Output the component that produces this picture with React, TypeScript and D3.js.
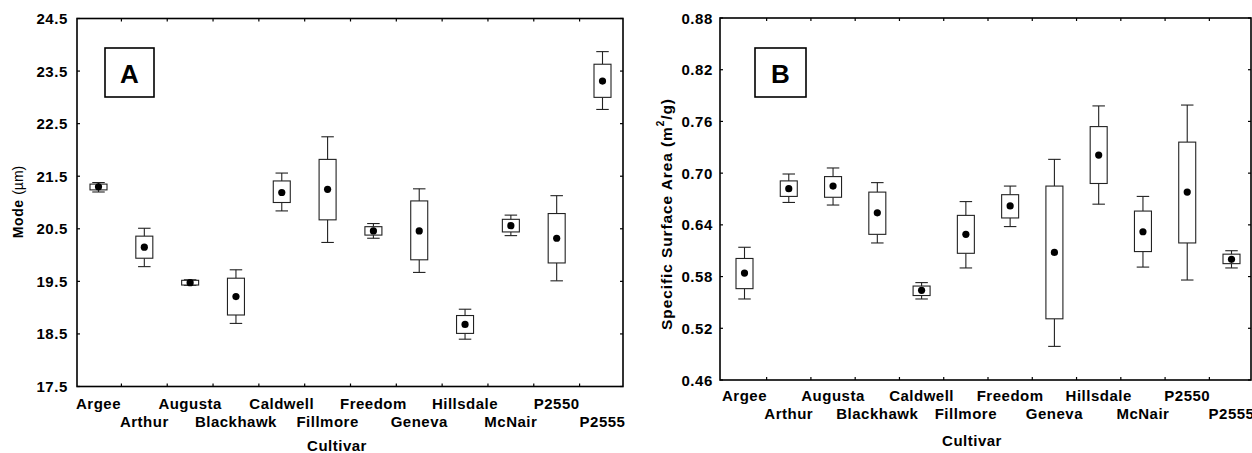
import React from "react";
import * as d3 from "d3";

const categories = ["Argee", "Arthur", "Augusta", "Blackhawk", "Caldwell", "Fillmore", "Freedom", "Geneva", "Hillsdale", "McNair", "P2550", "P2555"];

// Panel A: Mode (µm)
const modeMin = [21.2, 19.78, 19.425, 18.7, 20.84, 20.24, 20.32, 19.67, 18.4, 20.37, 19.51, 22.77];
const modeQ1 = [21.24, 19.94, 19.43, 18.86, 21.0, 20.67, 20.38, 19.91, 18.51, 20.44, 19.85, 23.0];
const modeMean = [21.3, 20.15, 19.475, 19.21, 21.19, 21.25, 20.46, 20.46, 18.68, 20.56, 20.32, 23.31];
const modeQ3 = [21.35, 20.36, 19.52, 19.56, 21.41, 21.82, 20.54, 21.03, 18.85, 20.68, 20.79, 23.63];
const modeMax = [21.38, 20.51, 19.53, 19.72, 21.56, 22.25, 20.6, 21.26, 18.97, 20.76, 21.13, 23.87];
const modeTicks = [17.5, 18.5, 19.5, 20.5, 21.5, 22.5, 23.5, 24.5];

// Panel B: Specific Surface Area (m2/g)
const ssaMin = [0.554, 0.666, 0.663, 0.619, 0.554, 0.59, 0.638, 0.499, 0.664, 0.591, 0.576, 0.59];
const ssaQ1 = [0.566, 0.673, 0.672, 0.629, 0.558, 0.607, 0.648, 0.531, 0.688, 0.609, 0.619, 0.595];
const ssaMean = [0.584, 0.682, 0.685, 0.654, 0.564, 0.629, 0.662, 0.608, 0.721, 0.632, 0.678, 0.6];
const ssaQ3 = [0.601, 0.691, 0.696, 0.678, 0.569, 0.651, 0.675, 0.685, 0.754, 0.656, 0.736, 0.606];
const ssaMax = [0.614, 0.699, 0.706, 0.689, 0.573, 0.667, 0.685, 0.716, 0.778, 0.673, 0.779, 0.61];
const ssaTicks = [0.46, 0.52, 0.58, 0.64, 0.7, 0.76, 0.82, 0.88];

const FONT = "'Liberation Sans', Arial, Helvetica, sans-serif";

type PanelProps = {
  left: number; right: number; top: number; bottom: number;
  domain: [number, number]; xRange: [number, number];
  ticks: number[]; fmt: string; tickLabelX: number;
  row1: number; row2: number; xLabelX: number; xLabelY: number;
  yLabelX: number; yLabelY: number; yLabel: React.ReactNode;
  letter: string; letterBox: [number, number, number, number];
  mins: number[]; q1: number[]; means: number[]; q3: number[]; maxs: number[];
};

function Panel(p: PanelProps) {
  const x = d3.scalePoint<string>().domain(categories).range(p.xRange);
  const y = d3.scaleLinear().domain(p.domain).range([p.bottom, p.top]);
  const f = d3.format(p.fmt);
  const step = x.step();
  const xTicks = categories.slice(0, -1).map((c) => (x(c) as number) + step / 2);
  const bw = 17;
  const cw = 12.5;
  const tl = 3;
  return (
    <g>
      {/* frame */}
      <rect x={p.left} y={p.top} width={p.right - p.left} height={p.bottom - p.top} fill="none" stroke="#000" strokeWidth={1.6} />
      {/* y ticks */}
      {p.ticks.map((t, i) => (
        <g key={"yt" + i}>
          <line x1={p.left} x2={p.left + tl} y1={y(t)} y2={y(t)} stroke="#000" strokeWidth={1.2} />
          <line x1={p.right} x2={p.right - tl} y1={y(t)} y2={y(t)} stroke="#000" strokeWidth={1.2} />
          <text x={p.tickLabelX} y={y(t)} textAnchor="end" dominantBaseline="central" fontFamily={FONT} fontWeight="bold" fontSize={15} letterSpacing={0.6}>{f(t)}</text>
        </g>
      ))}
      {/* x ticks */}
      {xTicks.map((xt, i) => (
        <g key={"xt" + i}>
          <line x1={xt} x2={xt} y1={p.top} y2={p.top + tl} stroke="#000" strokeWidth={1.2} />
          <line x1={xt} x2={xt} y1={p.bottom} y2={p.bottom - tl} stroke="#000" strokeWidth={1.2} />
        </g>
      ))}
      {/* category labels */}
      {categories.map((c, i) => (
        <text key={"cl" + i} x={x(c)} y={i % 2 === 0 ? p.row1 : p.row2} textAnchor="middle" fontFamily={FONT} fontWeight="bold" fontSize={15} letterSpacing={0.5}>{c}</text>
      ))}
      <text x={p.xLabelX} y={p.xLabelY} textAnchor="middle" fontFamily={FONT} fontWeight="bold" fontSize={15} letterSpacing={0.5}>Cultivar</text>
      <text transform={`translate(${p.yLabelX},${p.yLabelY}) rotate(-90)`} textAnchor="middle" dominantBaseline="central" fontFamily={FONT} fontWeight="bold">{p.yLabel}</text>
      {/* boxes */}
      {categories.map((c, i) => {
        const cx = x(c) as number;
        return (
          <g key={"bx" + i} stroke="#222" strokeWidth={1.1} fill="none">
            <line x1={cx} x2={cx} y1={y(p.maxs[i])} y2={y(p.q3[i])} />
            <line x1={cx} x2={cx} y1={y(p.q1[i])} y2={y(p.mins[i])} />
            <line x1={cx - cw / 2} x2={cx + cw / 2} y1={y(p.maxs[i])} y2={y(p.maxs[i])} />
            <line x1={cx - cw / 2} x2={cx + cw / 2} y1={y(p.mins[i])} y2={y(p.mins[i])} />
            <rect x={cx - bw / 2} y={y(p.q3[i])} width={bw} height={Math.max(0.5, y(p.q1[i]) - y(p.q3[i]))} fill="#fff" />
            <circle cx={cx} cy={y(p.means[i])} r={3.6} fill="#000" stroke="none" />
          </g>
        );
      })}
      {/* panel letter */}
      <rect x={p.letterBox[0]} y={p.letterBox[1]} width={p.letterBox[2]} height={p.letterBox[3]} fill="#fff" stroke="#000" strokeWidth={1.6} />
      <text x={p.letterBox[0] + p.letterBox[2] / 2} y={p.letterBox[1] + p.letterBox[3] / 2 + 1} textAnchor="middle" dominantBaseline="central" fontFamily={FONT} fontWeight="bold" fontSize={26}>{p.letter}</text>
    </g>
  );
}

export default function App() {
  return (
    <svg width={1252} height={453} style={{ position: "absolute", left: 0, top: 0, display: "block", background: "#fff" }}>
      <rect x={0} y={0} width={1252} height={453} fill="#fff" />
      <Panel
        left={77} right={623} top={18.5} bottom={386.5}
        domain={[17.5, 24.5]} xRange={[98.5, 602.5]}
        ticks={modeTicks} fmt=".1f" tickLabelX={68}
        row1={409} row2={427} xLabelX={337} xLabelY={451}
        yLabelX={18} yLabelY={202}
        yLabel={<><tspan fontSize={14} letterSpacing={0.6}>Mode </tspan><tspan fontSize={14} fontWeight="normal">(µm)</tspan></>}
        letter="A" letterBox={[105, 48, 49, 49]}
        mins={modeMin} q1={modeQ1} means={modeMean} q3={modeQ3} maxs={modeMax}
      />
      <Panel
        left={720} right={1251} top={18} bottom={380}
        domain={[0.46, 0.88]} xRange={[744.5, 1231.5]}
        ticks={ssaTicks} fmt=".2f" tickLabelX={713}
        row1={401} row2={419} xLabelX={972} xLabelY={446}
        yLabelX={666} yLabelY={214}
        yLabel={<tspan fontSize={15.5} letterSpacing={0.9}>Specific Surface Area (m<tspan fontSize={10} dy={-6}>2</tspan><tspan dy={6}>/g)</tspan></tspan>}
        letter="B" letterBox={[755, 48, 51, 49]}
        mins={ssaMin} q1={ssaQ1} means={ssaMean} q3={ssaQ3} maxs={ssaMax}
      />
    </svg>
  );
}
